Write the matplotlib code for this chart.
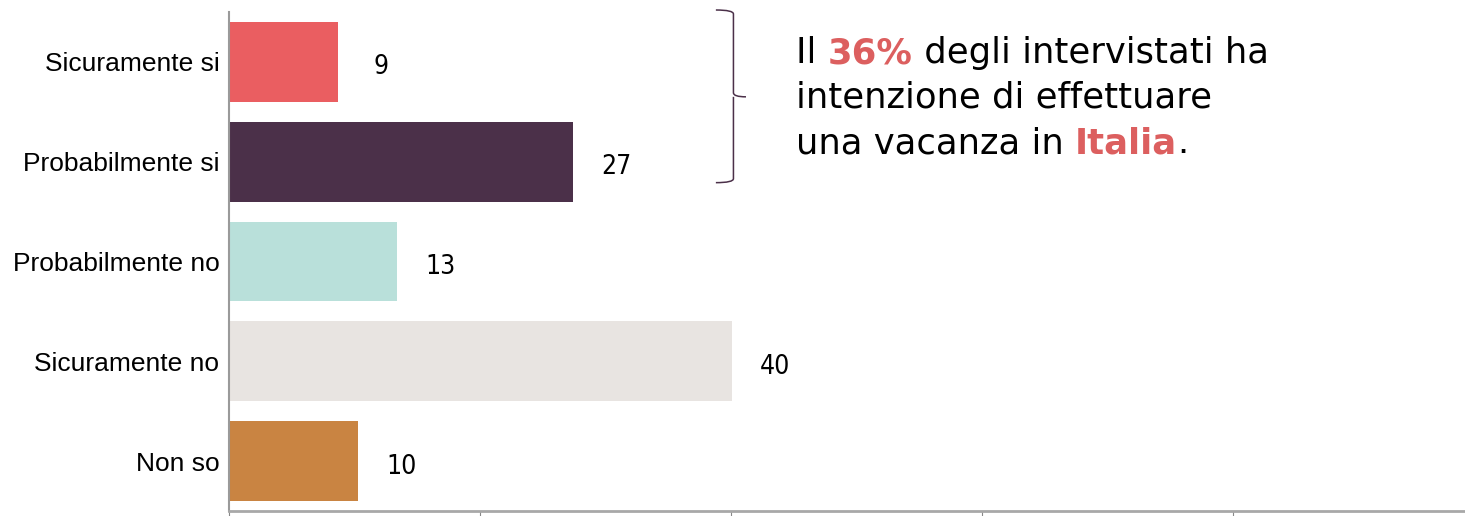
import matplotlib.pyplot as plt
from matplotlib.path import Path
from matplotlib.patches import PathPatch

# data (bar lengths, labels are the rounded values)
categories = ['Sicuramente si', 'Probabilmente si', 'Probabilmente no', 'Sicuramente no', 'Non so']
values = [8.7, 27.4, 13.4, 40.1, 10.3]
labels = ['9', '27', '13', '40', '10']
colors = ['#EA5E61', '#4B3049', '#B9E0DA', '#E8E4E1', '#C98442']
highlight = '#DC5F5F'

fig = plt.figure(figsize=(14.65, 5.16), dpi=100)
ax = fig.add_axes([229 / 1465, 5 / 516, 1 - 229 / 1465, 499 / 516])

ax.barh(range(len(categories)), values, height=0.8, color=colors)
ax.set_ylim(4.5, -0.5)
ax.set_xlim(0, 98.5)
ax.set_yticks(range(len(categories)))
ax.set_yticklabels(categories, family='Liberation Sans', fontsize=19)
ax.tick_params(axis='y', length=0, pad=7)
ax.set_xticks([0, 20, 40, 60, 80])
ax.tick_params(axis='x', length=5, color='#888888', labelbottom=False)

for s in ['top', 'right']:
    ax.spines[s].set_visible(False)
ax.spines['left'].set_color('#9A9A9A')
ax.spines['left'].set_linewidth(1.5)
ax.spines['bottom'].set_color('#A8A8A8')
ax.spines['bottom'].set_linewidth(2)

for i, (v, lab) in enumerate(zip(values, labels)):
    ax.annotate(lab, (v, i), xytext=(31, -4), textcoords='offset points',
                va='center', ha='center', fontsize=19, family='DejaVu Sans',
                stretch='condensed')

# curly bracket around the first two bars
x0, x1, x2 = 38.8, 40.2, 41.2
yt, ym, yb = -0.52, 0.35, 1.21
verts = [(x0, yt), (x1, yt), (x1, yt + 0.04),
         (x1, ym - 0.04), (x1, ym), (x2, ym),
         (x1, ym), (x1, ym + 0.04),
         (x1, yb - 0.04), (x1, yb), (x0, yb)]
codes = [Path.MOVETO, Path.CURVE3, Path.CURVE3,
         Path.LINETO, Path.CURVE3, Path.CURVE3,
         Path.MOVETO, Path.CURVE3,
         Path.LINETO, Path.CURVE3, Path.CURVE3]
ax.add_patch(PathPatch(Path(verts, codes), fill=False, edgecolor='#4B3049',
                       lw=1.1, clip_on=False))

# annotation text
fs = 25.5
fam = 'DejaVu Sans'
x_txt = 796 / 1465
t = fig.text(x_txt, 1 - 63 / 516, 'Il ', fontsize=fs, family=fam, va='baseline')
t = ax.annotate('36%', xy=(1, 0), xycoords=t, va='bottom', fontsize=fs,
                family=fam, weight='bold', color=highlight)
ax.annotate(' degli intervistati ha', xy=(1, 0), xycoords=t, va='bottom',
            fontsize=fs, family=fam)
fig.text(x_txt, 1 - 108 / 516, 'intenzione di effettuare', fontsize=fs,
         family=fam, va='baseline')
t = fig.text(x_txt, 1 - 153 / 516, 'una vacanza in ', fontsize=fs,
             family=fam, va='baseline')
t = ax.annotate('Italia', xy=(1, 0), xycoords=t, va='bottom', fontsize=fs,
                family=fam, weight='bold', color=highlight)
ax.annotate('.', xy=(1, 0), xycoords=t, va='bottom', fontsize=fs, family=fam)

fig.savefig('out.png', dpi=100)
